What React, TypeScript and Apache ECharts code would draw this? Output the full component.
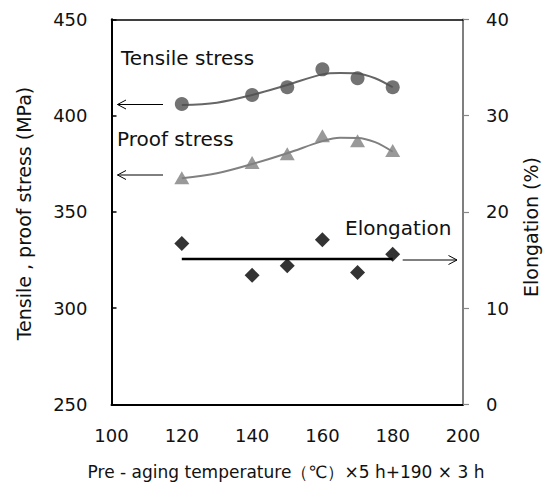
import React, { useEffect, useRef } from "react";
import * as echarts from "echarts";

const temps = [120, 140, 150, 160, 170, 180];
const tensile = [406.0, 410.7, 414.7, 424.0, 419.4, 414.7];
const proof = [367.7, 375.6, 380.1, 389.5, 386.9, 381.8];
const elongation = [16.7, 13.4, 14.4, 17.1, 13.7, 15.6];

const curveTemps = [120, 130, 140, 150, 160, 165, 170, 175, 180];
const tensileCurve = [405.5, 406.7, 410.7, 415.9, 421.4, 422.1, 421.9, 419.4, 414.7];
const proofCurve = [367.4, 370.0, 374.8, 380.4, 386.7, 388.5, 388.4, 386.2, 381.2];

const elongTemps = [120, 180];
const elongMean = [15.1, 15.1];

const FONT = '"DejaVu Sans", sans-serif';

export default function App() {
  const ref = useRef<HTMLDivElement>(null);
  useEffect(() => {
    if (!ref.current) return;
    const chart = echarts.init(ref.current, null, { renderer: "svg" });
    const pair = (xs: number[], ys: number[]) => xs.map((x, i) => [x, ys[i]]);
    const arrow = (x1: number, x2: number, y: number, dir: number) => {
      const tip = dir < 0 ? x1 : x2;
      const back = tip - dir * 8.5;
      return [
        { type: "line", shape: { x1, y1: y, x2, y2: y }, style: { stroke: "#000", lineWidth: 1 } },
        {
          type: "polyline",
          shape: { points: [[back, y - 4.5], [tip, y], [back, y + 4.5]] },
          style: { stroke: "#000", lineWidth: 1, fill: "none" },
        },
      ];
    };
    const option: any = {
      animation: false,
      grid: { left: 111.5, right: 87, top: 19.3, bottom: 78.7, containLabel: false },
      xAxis: [
        {
          type: "value",
          min: 100,
          max: 200,
          interval: 20,
          axisLine: { show: true, lineStyle: { color: "#000", width: 2 } },
          axisTick: { show: false },
          splitLine: { show: false },
          axisLabel: { margin: 22, fontSize: 18, fontFamily: FONT, color: "#111" },
        },
        {
          type: "value",
          position: "top",
          min: 100,
          max: 200,
          axisLine: { show: true, onZero: false, lineStyle: { color: "#000", width: 1.5 } },
          axisTick: { show: false },
          axisLabel: { show: false },
          splitLine: { show: false },
        },
      ],
      yAxis: [
        {
          type: "value",
          min: 250,
          max: 450,
          interval: 50,
          axisLine: { show: true, lineStyle: { color: "#000", width: 2 } },
          axisTick: { show: true, inside: true, length: 5, lineStyle: { color: "#000", width: 1.5 } },
          splitLine: { show: false },
          axisLabel: { margin: 24, fontSize: 18, fontFamily: FONT, color: "#111" },
        },
        {
          type: "value",
          position: "right",
          min: 0,
          max: 40,
          interval: 10,
          axisLine: { show: true, lineStyle: { color: "#555", width: 1.5 } },
          axisTick: { show: true, inside: false, length: 6, lineStyle: { color: "#888", width: 1.2 } },
          splitLine: { show: false },
          axisLabel: { margin: 23, fontSize: 18, fontFamily: FONT, color: "#111" },
        },
      ],
      series: [
        {
          type: "line",
          data: pair(curveTemps, tensileCurve),
          smooth: 0.35,
          showSymbol: false,
          symbol: "none",
          lineStyle: { color: "#666", width: 2 },
          z: 2,
        },
        {
          type: "scatter",
          data: pair(temps, tensile),
          symbol: "circle",
          symbolSize: 14,
          itemStyle: { color: "#505050" },
          z: 3,
        },
        {
          type: "line",
          data: pair(curveTemps, proofCurve),
          smooth: 0.35,
          showSymbol: false,
          symbol: "none",
          lineStyle: { color: "#808080", width: 2 },
          z: 2,
        },
        {
          type: "scatter",
          data: pair(temps, proof),
          symbol: "triangle",
          symbolSize: [15, 13],
          itemStyle: { color: "#808080" },
          z: 3,
        },
        {
          type: "line",
          yAxisIndex: 1,
          data: pair(elongTemps, elongMean),
          showSymbol: false,
          symbol: "none",
          lineStyle: { color: "#000", width: 2.5 },
          z: 2,
        },
        {
          type: "scatter",
          yAxisIndex: 1,
          data: pair(temps, elongation),
          symbol: "diamond",
          symbolSize: [15, 15],
          itemStyle: { color: "#000" },
          z: 3,
        },
      ],
      graphic: [
        ...arrow(117.5, 163, 104.5, -1),
        ...arrow(117.5, 163, 175, -1),
        ...arrow(402.7, 457, 260, 1),
        {
          type: "text",
          x: 121,
          y: 57.5,
          style: { text: "Tensile stress", font: `20px ${FONT}`, fill: "#111", textAlign: "left", textVerticalAlign: "middle" },
        },
        {
          type: "text",
          x: 117,
          y: 138.7,
          style: { text: "Proof stress", font: `20px ${FONT}`, fill: "#111", textAlign: "left", textVerticalAlign: "middle" },
        },
        {
          type: "text",
          x: 345,
          y: 228,
          style: { text: "Elongation", font: `20px ${FONT}`, fill: "#111", textAlign: "left", textVerticalAlign: "middle" },
        },
        {
          type: "text",
          x: 24,
          y: 213.5,
          rotation: Math.PI / 2,
          style: { text: "Tensile , proof stress (MPa)", font: `19px ${FONT}`, fill: "#111", textAlign: "center", textVerticalAlign: "middle" },
        },
        {
          type: "text",
          x: 531,
          y: 227,
          rotation: Math.PI / 2,
          style: { text: "Elongation (%)", font: `19px ${FONT}`, fill: "#111", textAlign: "center", textVerticalAlign: "middle" },
        },
        {
          type: "text",
          x: 286,
          y: 471.5,
          style: { text: "Pre - aging temperature（℃）×5 h+190 × 3 h", font: `17px ${FONT}`, fill: "#111", textAlign: "center", textVerticalAlign: "middle" },
        },
      ],
    };
    chart.setOption(option);
    return () => chart.dispose();
  }, []);
  return <div ref={ref} style={{ position: "absolute", left: 0, top: 0, width: 550, height: 483 }} />;
}
